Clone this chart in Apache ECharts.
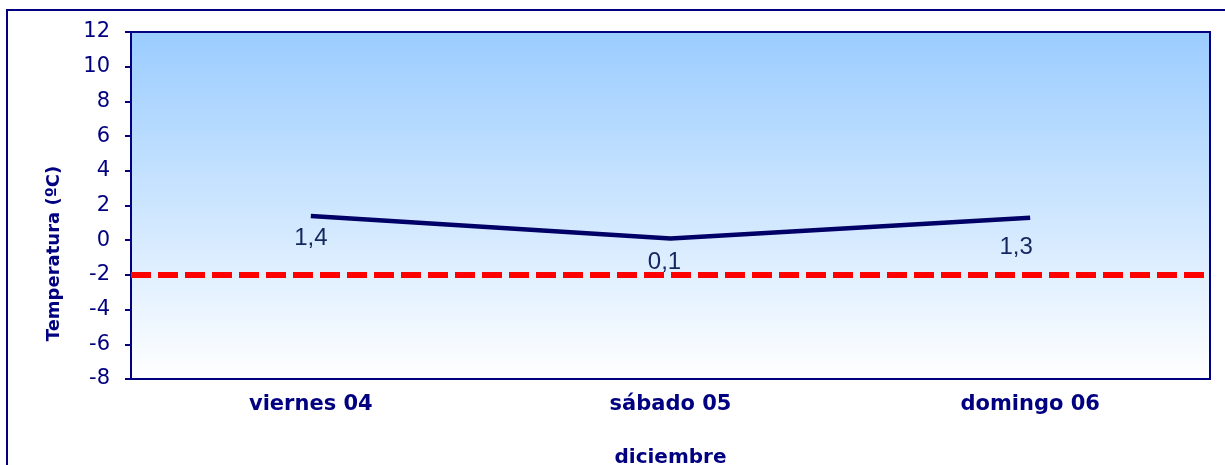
<!DOCTYPE html>
<html>
<head>
<meta charset="utf-8">
<script src="https://cdn.jsdelivr.net/npm/echarts@6/dist/echarts.min.js"></script>
<style>
html,body{margin:0;padding:0;background:#fff;}
#c{width:1225px;height:465px;}
</style>
</head>
<body>
<div id="c"></div>
<script>
const categories = ['viernes 04', 'sábado 05', 'domingo 06'];
const temps = [1.4, 0.1, 1.3];
const thresholdValue = -2;
const yTicks = { min: -8, max: 12, interval: 2 };

const chart = echarts.init(document.getElementById('c'), null, { renderer: 'canvas' });
const navy = '#000080';
const font = 'DejaVu Sans, Liberation Sans, Arial';
const labelNudge = [[0, -2], [-6, 0], [-14, 6]];

chart.setOption({
  animation: false,
  graphic: [{
    type: 'rect',
    shape: { x: 7, y: 10, width: 1300, height: 600 },
    style: { fill: 'none', stroke: navy, lineWidth: 2 },
    z: 0
  }],
  grid: {
    left: 131, top: 32, right: 15, bottom: 86,
    outerBoundsMode: 'none',
    containLabel: false,
    show: true,
    borderColor: navy,
    borderWidth: 2,
    backgroundColor: new echarts.graphic.LinearGradient(0, 0, 0, 1, [
      { offset: 0, color: '#9ACCFF' },
      { offset: 1, color: '#FFFFFF' }
    ])
  },
  xAxis: {
    type: 'category',
    data: categories,
    boundaryGap: true,
    axisLine: { show: true, onZero: false, lineStyle: { color: navy, width: 2 } },
    axisTick: { show: false },
    axisLabel: { color: navy, fontFamily: font, fontWeight: 'bold', fontSize: 21, margin: 15 },
    name: 'diciembre',
    nameLocation: 'middle',
    nameGap: 69,
    nameTextStyle: { color: navy, fontFamily: font, fontWeight: 'bold', fontSize: 20 }
  },
  yAxis: {
    type: 'value',
    min: yTicks.min, max: yTicks.max, interval: yTicks.interval,
    axisLine: { show: true, lineStyle: { color: navy, width: 2 } },
    axisTick: { show: true, length: 6, inside: false, lineStyle: { color: navy, width: 2 } },
    splitLine: { show: false },
    axisLabel: { color: navy, fontFamily: font, fontSize: 21, margin: 21 },
    name: 'Temperatura (ºC)',
    nameLocation: 'middle',
    nameGap: 68,
    nameRotate: 90,
    nameTextStyle: { color: navy, fontFamily: font, fontWeight: 'bold', fontSize: 18, padding: [0, 96, 0, 0] }
  },
  series: [{
    type: 'line',
    data: temps.map((v, i) => ({ value: v, label: { offset: labelNudge[i] } })),
    symbol: 'circle',
    symbolSize: 0,
    showSymbol: true,
    itemStyle: { color: '#000066' },
    lineStyle: { color: '#000066', width: 4.5 },
    label: {
      show: true,
      position: 'bottom',
      distance: 12,
      formatter: p => String(p.value).replace('.', ','),
      color: '#13265E',
      fontFamily: 'Liberation Sans, Arial',
      fontSize: 24
    },
    markLine: {
      silent: true,
      symbol: 'none',
      label: { show: false },
      lineStyle: { color: '#FF0000', width: 6, type: [20, 7] },
      data: [{ yAxis: thresholdValue }]
    }
  }]
});
</script>
</body>
</html>
